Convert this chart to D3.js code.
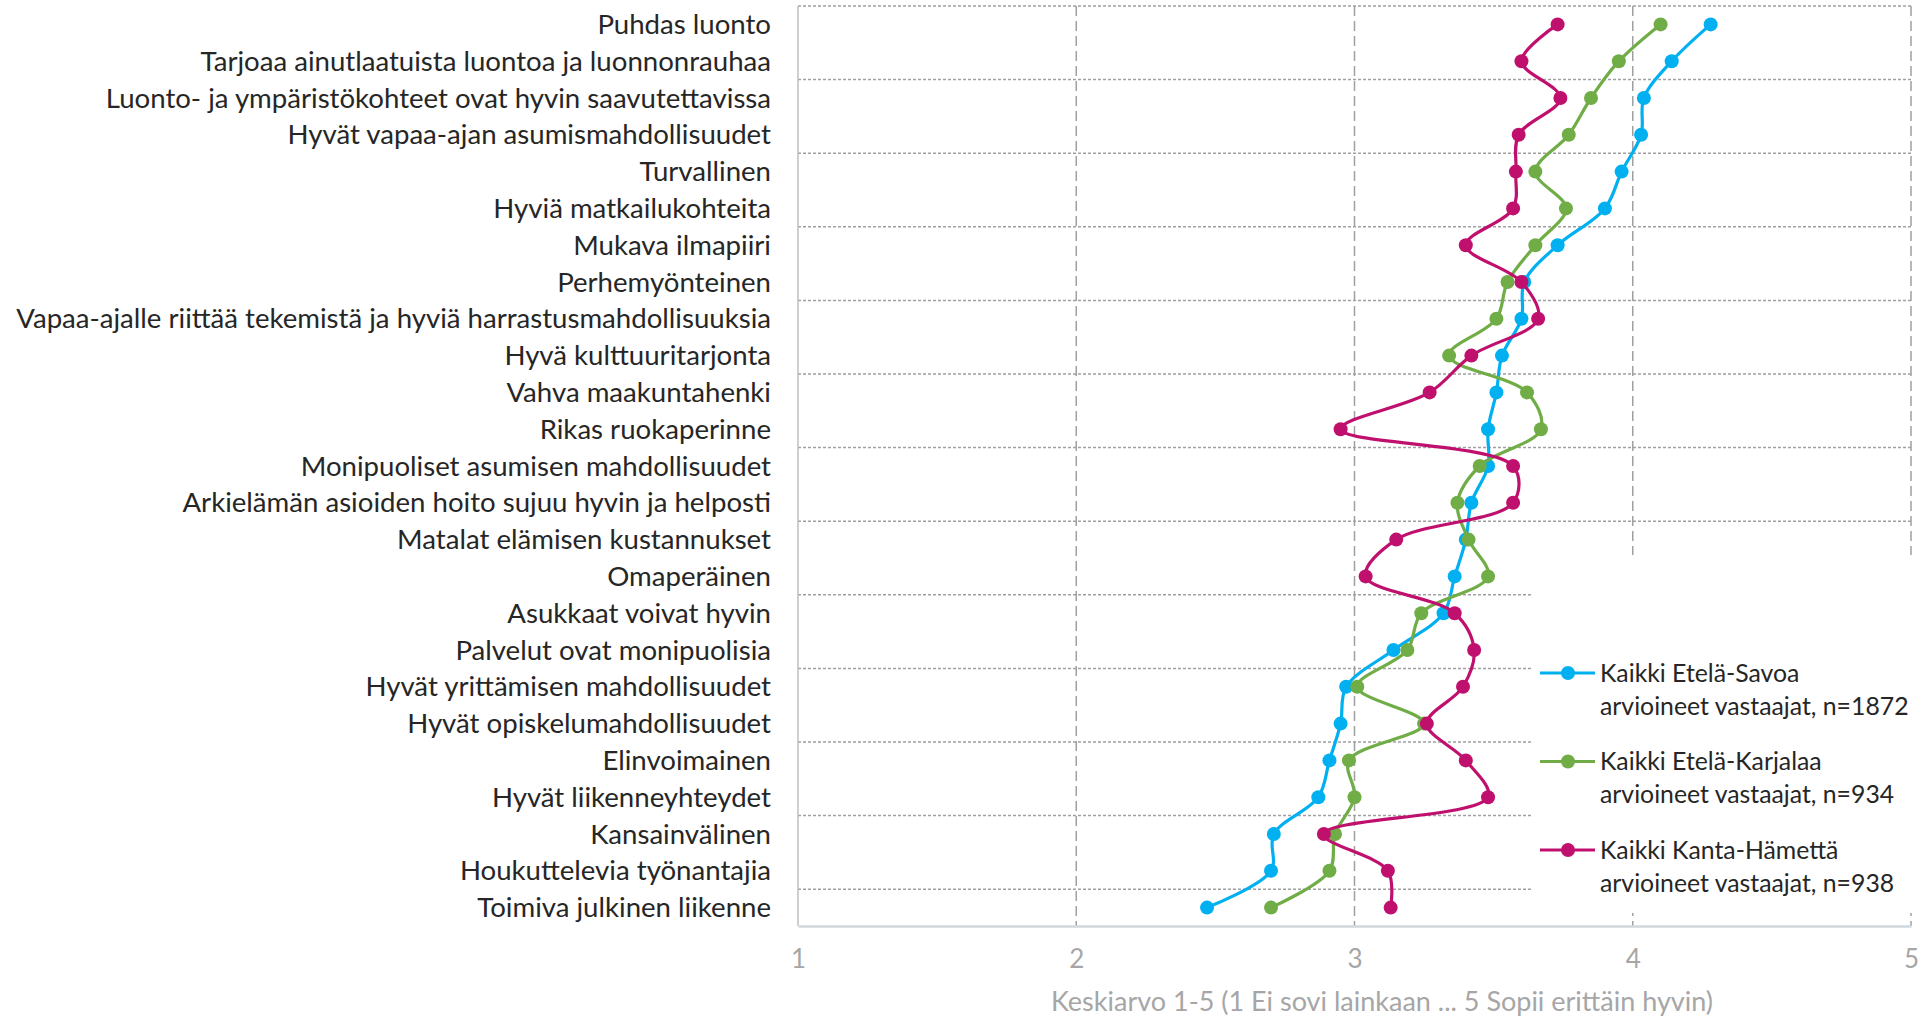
<!DOCTYPE html>
<html>
<head>
<meta charset="utf-8">
<script src="https://cdn.jsdelivr.net/npm/d3@7"></script>
<style>
  body { margin: 0; background: #fff; }
  svg { display: block; font-family: Lato, "Open Sans", sans-serif; }
</style>
</head>
<body>
<div id="chart"></div>
<script>
// Data
const categories = [
  "Puhdas luonto",
  "Tarjoaa ainutlaatuista luontoa ja luonnonrauhaa",
  "Luonto- ja ympäristökohteet ovat hyvin saavutettavissa",
  "Hyvät vapaa-ajan asumismahdollisuudet",
  "Turvallinen",
  "Hyviä matkailukohteita",
  "Mukava ilmapiiri",
  "Perhemyönteinen",
  "Vapaa-ajalle riittää tekemistä ja hyviä harrastusmahdollisuuksia",
  "Hyvä kulttuuritarjonta",
  "Vahva maakuntahenki",
  "Rikas ruokaperinne",
  "Monipuoliset asumisen mahdollisuudet",
  "Arkielämän asioiden hoito sujuu hyvin ja helposti",
  "Matalat elämisen kustannukset",
  "Omaperäinen",
  "Asukkaat voivat hyvin",
  "Palvelut ovat monipuolisia",
  "Hyvät yrittämisen mahdollisuudet",
  "Hyvät opiskelumahdollisuudet",
  "Elinvoimainen",
  "Hyvät liikenneyhteydet",
  "Kansainvälinen",
  "Houkuttelevia työnantajia",
  "Toimiva julkinen liikenne"
];
const savoa     = [4.28, 4.14, 4.04, 4.03, 3.96, 3.90, 3.73, 3.61, 3.60, 3.53, 3.51, 3.48, 3.48, 3.42, 3.40, 3.36, 3.32, 3.14, 2.97, 2.95, 2.91, 2.87, 2.71, 2.70, 2.47];
const karjalaa  = [4.10, 3.95, 3.85, 3.77, 3.65, 3.76, 3.65, 3.55, 3.51, 3.34, 3.62, 3.67, 3.45, 3.37, 3.41, 3.48, 3.24, 3.19, 3.01, 3.25, 2.98, 3.00, 2.93, 2.91, 2.70];
const kantaHame = [3.73, 3.60, 3.74, 3.59, 3.58, 3.57, 3.40, 3.60, 3.66, 3.42, 3.27, 2.95, 3.57, 3.57, 3.15, 3.04, 3.36, 3.43, 3.39, 3.26, 3.40, 3.48, 2.89, 3.12, 3.13];
const xTicks = [1, 2, 3, 4, 5];
const legendLabels = [
  ["Kaikki Etelä-Savoa", "arvioineet vastaajat, n=1872"],
  ["Kaikki Etelä-Karjalaa", "arvioineet vastaajat, n=934"],
  ["Kaikki Kanta-Hämettä", "arvioineet vastaajat, n=938"]
];
const xTitle = "Keskiarvo 1-5 (1 Ei sovi lainkaan ... 5 Sopii erittäin hyvin)";

const colors = ["#00B0F0", "#70AD47", "#C0106E"];
const series = [savoa, karjalaa, kantaHame];

const W = 1921, H = 1017;
const plot = { left: 798, right: 1911, top: 6, bottom: 926 };

const svg = d3.select("#chart")
  .append("svg")
  .attr("width", W)
  .attr("height", H);

const x = d3.scaleLinear()
  .domain([1, 5])
  .range([plot.left, plot.right]);

const y = d3.scaleBand()
  .domain(categories)
  .range([plot.top, plot.bottom])
  .padding(0);

const yc = c => y(c) + y.bandwidth() / 2;

// Horizontal dotted gridlines every second category
const hLines = categories.filter((c, i) => i % 2 === 0);
svg.append("g")
  .selectAll("line")
  .data(hLines)
  .enter()
  .append("line")
  .attr("x1", plot.left)
  .attr("x2", plot.right)
  .attr("y1", d => y(d))
  .attr("y2", d => y(d))
  .attr("stroke", "#a0a0a0")
  .attr("stroke-width", 1.5)
  .attr("stroke-dasharray", "3,2");

// Vertical dashed gridlines
svg.append("g")
  .selectAll("line")
  .data(xTicks.slice(1))
  .enter()
  .append("line")
  .attr("x1", d => x(d))
  .attr("x2", d => x(d))
  .attr("y1", plot.top)
  .attr("y2", plot.bottom)
  .attr("stroke", "#a0a0a0")
  .attr("stroke-width", 1.5)
  .attr("stroke-dasharray", "10,5");

// Left axis line
svg.append("line")
  .attr("x1", plot.left).attr("x2", plot.left)
  .attr("y1", plot.top).attr("y2", plot.bottom)
  .attr("stroke", "#bfbfbf")
  .attr("stroke-width", 1.5);

// Legend background covers the grid
svg.append("rect")
  .attr("x", 1531).attr("y", 555)
  .attr("width", W - 1531).attr("height", 913 - 555)
  .attr("fill", "#fff");

// Bottom axis
const xAxis = svg.append("g")
  .attr("transform", `translate(0,${plot.bottom})`)
  .call(d3.axisBottom(x).tickValues(xTicks).tickSize(0).tickPadding(24).tickFormat(d3.format("d")));
xAxis.select(".domain").attr("stroke", "#d0d7dc").attr("stroke-width", 2.5);
xAxis.selectAll("text")
  .attr("fill", "#a6a6a6")
  .style("font-size", "26px")
  .style("font-family", "Lato, sans-serif");

svg.append("text")
  .attr("x", 1382)
  .attr("y", 1011)
  .attr("text-anchor", "middle")
  .attr("fill", "#a6a6a6")
  .style("font-size", "27px")
  .text(xTitle);

// Category labels
svg.append("g")
  .selectAll("text")
  .data(categories)
  .enter()
  .append("text")
  .attr("x", 771)
  .attr("y", d => yc(d))
  .attr("dy", "0.35em")
  .attr("text-anchor", "end")
  .attr("fill", "#262626")
  .style("font-size", "27.6px")
  .text(d => d);

// Series
const line = d3.line()
  .x(d => x(d.v))
  .y(d => yc(d.c))
  .curve(d3.curveCatmullRom);

series.forEach((vals, si) => {
  const pts = vals.map((v, i) => ({ v: v, c: categories[i] }));
  const g = svg.append("g");
  g.append("path")
    .datum(pts)
    .attr("d", line)
    .attr("fill", "none")
    .attr("stroke", colors[si])
    .attr("stroke-width", 3.2);
  g.selectAll("circle")
    .data(pts)
    .enter()
    .append("circle")
    .attr("cx", d => x(d.v))
    .attr("cy", d => yc(d.c))
    .attr("r", 7)
    .attr("fill", colors[si]);
});

// Legend
const legend = svg.append("g");
legendLabels.forEach((lab, i) => {
  const ly = 673 + i * 88.5;
  legend.append("line")
    .attr("x1", 1540).attr("x2", 1595)
    .attr("y1", ly).attr("y2", ly)
    .attr("stroke", colors[i])
    .attr("stroke-width", 3.2);
  legend.append("circle")
    .attr("cx", 1568).attr("cy", ly)
    .attr("r", 7)
    .attr("fill", colors[i]);
  legend.append("text")
    .attr("x", 1600).attr("y", ly)
    .attr("dy", "0.35em")
    .attr("fill", "#262626")
    .style("font-size", "24.8px")
    .text(lab[0]);
  legend.append("text")
    .attr("x", 1600).attr("y", ly + 33)
    .attr("dy", "0.35em")
    .attr("fill", "#262626")
    .style("font-size", "24.8px")
    .text(lab[1]);
});
</script>
</body>
</html>
